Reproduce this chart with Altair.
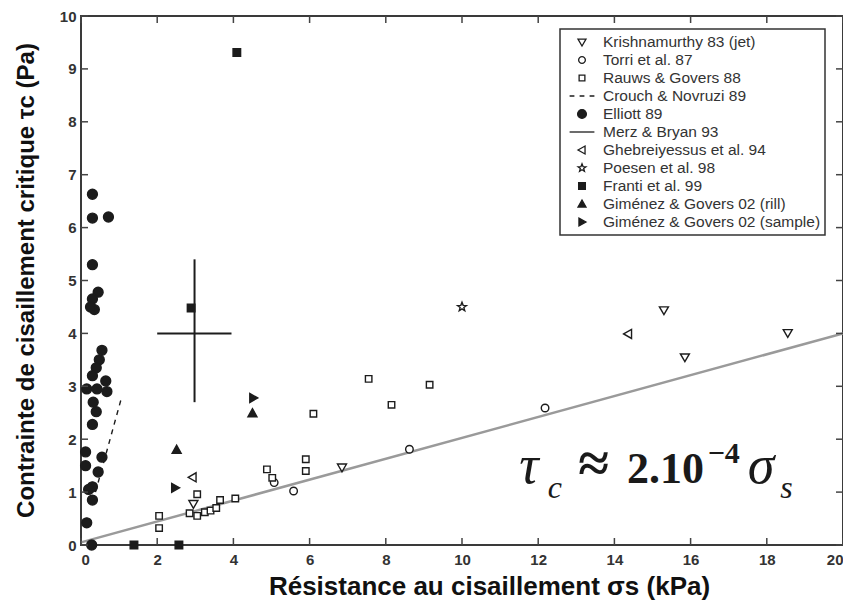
import altair as alt
import pandas as pd
import numpy as np

# ---------------- data ----------------
series_names = [
    "Krishnamurthy 83 (jet)", "Torri et al. 87", "Rauws & Govers 88",
    "Crouch & Novruzi 89", "Elliott 89", "Merz & Bryan 93",
    "Ghebreiyessus et al. 94", "Poesen et al. 98", "Franti et al. 99",
    "Giménez & Govers 02 (rill)", "Giménez & Govers 02 (sample)",
]

krish_x = [2.95, 6.85, 15.3, 15.85, 18.55]
krish_y = [0.78, 1.47, 4.44, 3.55, 4.01]

torri_x = [5.07, 5.58, 8.62, 12.18]
torri_y = [1.18, 1.02, 1.81, 2.59]

rauws_x = [2.05, 2.05, 2.85, 3.05, 3.05, 3.25, 3.4, 3.55, 3.65, 4.05,
           4.88, 5.02, 5.9, 5.9, 6.1, 7.55, 8.15, 9.15]
rauws_y = [0.55, 0.32, 0.6, 0.96, 0.55, 0.62, 0.65, 0.7, 0.85, 0.88,
           1.43, 1.27, 1.62, 1.4, 2.48, 3.14, 2.65, 3.03]

elliott_x = [0.3, 0.3, 0.72, 0.3, 0.45, 0.3, 0.35, 0.25, 0.55, 0.48, 0.4, 0.3,
             0.15, 0.42, 0.65, 0.68, 0.32, 0.4, 0.3, 0.12, 0.12, 0.55, 0.45,
             0.3, 0.2, 0.3, 0.15, 0.28]
elliott_y = [6.63, 6.18, 6.2, 5.3, 4.78, 4.65, 4.45, 4.5, 3.68, 3.5, 3.35, 3.2,
             2.95, 2.95, 3.1, 2.9, 2.7, 2.52, 2.28, 1.76, 1.5, 1.66, 1.38,
             1.1, 1.05, 0.85, 0.42, 0.0]

gheb_x = [2.93, 14.36]
gheb_y = [1.28, 3.99]

poesen_x = [10.0]
poesen_y = [4.5]

franti_x = [4.09, 2.89, 1.39, 2.57]
franti_y = [9.31, 4.48, 0.0, 0.0]

gim_rill_x = [2.51, 4.5]
gim_rill_y = [1.8, 2.49]

gim_sample_x = [2.47, 4.52]
gim_sample_y = [1.08, 2.78]

# Crouch & Novruzi 89 (dashed segment)
crouch_x = [0.38, 1.05]
crouch_y = [1.0, 2.75]

# Merz & Bryan 93 (cross: mean +/- range)
merz_cx = 2.98
merz_cy = 4.0
merz_x_range = [2.0, 3.95]
merz_y_range = [2.7, 5.4]

# fitted relation tau_c ~ 2e-4 sigma_s
fit_x = [0.0, 20.0]
fit_y = [0.05, 4.0]

x_ticks = list(range(0, 21, 2))
y_ticks = list(range(0, 11, 1))

# formula annotation pieces
formula_text = ["τ", "c", "≈", "2.10", "−4", "σ", "s"]
formula_x = [11.5, 12.25, 13.05, 14.33, 16.45, 17.5, 18.35]
formula_y = [1.17, 0.89, 1.2, 1.17, 1.55, 1.17, 0.89]

# ---------------- marker styles ----------------
def circ(r):
    return f"M{r},0A{r},{r} 0 1,1 -{r},0A{r},{r} 0 1,1 {r},0Z"

def sq(h):
    return f"M-{h},-{h}L{h},-{h}L{h},{h}L-{h},{h}Z"

ang = np.deg2rad(-90 + 36 * np.arange(10))
rad = np.where(np.arange(10) % 2 == 0, 0.52, 0.22)
star = "M" + "L".join(f"{r*np.cos(a):.3f},{r*np.sin(a):.3f}" for r, a in zip(rad, ang)) + "Z"

shape_range = [
    "M-0.5,-0.36L0.5,-0.36L0,0.5Z",          # triangle down
    circ(0.42),                                # circle
    sq(0.36),                                  # square
    "M-1.55,0L-0.95,0M-0.3,0L0.3,0M0.95,0L1.55,0",  # dashed line
    circ(0.55),                                # filled circle
    "M-1.55,0L1.55,0",                         # solid line
    "M-0.5,0L0.38,-0.5L0.38,0.5Z",             # triangle left
    star,                                      # star
    sq(0.42),                                  # filled square
    "M-0.5,0.38L0.5,0.38L0,-0.5Z",             # triangle up
    "M0.5,0L-0.38,-0.5L-0.38,0.5Z",            # triangle right
]
ink = "#1c1c1c"
fill_range = ["white", "white", "white", "white", ink, "white", "white",
              "white", ink, ink, ink]
stroke_range = [ink] * 11

pts = []
for name, xs, ys in [
    (series_names[0], krish_x, krish_y),
    (series_names[1], torri_x, torri_y),
    (series_names[2], rauws_x, rauws_y),
    (series_names[4], elliott_x, elliott_y),
    (series_names[6], gheb_x, gheb_y),
    (series_names[7], poesen_x, poesen_y),
    (series_names[8], franti_x, franti_y),
    (series_names[9], gim_rill_x, gim_rill_y),
    (series_names[10], gim_sample_x, gim_sample_y),
]:
    for a, b in zip(xs, ys):
        pts.append({"series": name, "x": a, "y": b})
pts_df = pd.DataFrame(pts)

xscale = alt.Scale(domain=[0, 20], nice=False, zero=False)
yscale = alt.Scale(domain=[0, 10], nice=False, zero=False)

title_font = "Liberation Sans"

points = alt.Chart(pts_df).mark_point(size=324, strokeWidth=1.4, opacity=1).encode(
    x=alt.X("x:Q", scale=xscale, axis=alt.Axis(
        values=x_ticks, title="Résistance au cisaillement σs (kPa)",
        titleX=408, titleY=41, titleBaseline="middle")),
    y=alt.Y("y:Q", scale=yscale, axis=alt.Axis(
        values=y_ticks, title="Contrainte de cisaillement critique τc (Pa)",
        titleX=-55, titleY=264, titleBaseline="middle")),
    shape=alt.Shape("series:N", scale=alt.Scale(domain=series_names, range=shape_range), title=None),
    fill=alt.Fill("series:N", scale=alt.Scale(domain=series_names, range=fill_range), title=None),
    stroke=alt.Stroke("series:N", scale=alt.Scale(domain=series_names, range=stroke_range), title=None),
)

fit = alt.Chart(pd.DataFrame({"x": fit_x, "y": fit_y})).mark_line(
    color="#9a9a9a", strokeWidth=2.5).encode(x="x:Q", y="y:Q")

crouch = alt.Chart(pd.DataFrame({"x": crouch_x, "y": crouch_y})).mark_line(
    color=ink, strokeWidth=1.4, strokeDash=[5, 5]).encode(x="x:Q", y="y:Q")

merz_df = pd.DataFrame({
    "x": [merz_x_range[0], merz_cx], "x2": [merz_x_range[1], merz_cx],
    "y": [merz_cy, merz_y_range[0]], "y2": [merz_cy, merz_y_range[1]],
})
merz = alt.Chart(merz_df).mark_rule(color=ink, strokeWidth=2).encode(
    x="x:Q", x2="x2:Q", y="y:Q", y2="y2:Q")

fdf = pd.DataFrame({"t": formula_text, "x": formula_x, "y": formula_y,
                    "fs": [54, 32, 56, 44, 30, 54, 32]})
f_italic = alt.Chart(fdf[fdf.t.isin(["τ", "c", "σ", "s"])]).mark_text(
    font="Liberation Serif", fontStyle="italic", align="left", baseline="alphabetic",
    color="#1a1a1a").encode(x="x:Q", y="y:Q", text="t:N", size=alt.Size("fs:Q", scale=None, legend=None))
f_reg = alt.Chart(fdf[fdf.t.isin(["≈", "2.10", "−4"])]).mark_text(
    font="Liberation Serif", fontWeight="bold", align="left", baseline="alphabetic",
    color="#1a1a1a").encode(x="x:Q", y="y:Q", text="t:N", size=alt.Size("fs:Q", scale=None, legend=None))

W, H, T = 762, 529, 7
tick_col = "#444"
xt = pd.DataFrame({"v": x_ticks})
yt = pd.DataFrame({"v": y_ticks})
tb = alt.Chart(xt).mark_rule(color=tick_col, strokeWidth=1.5).encode(
    x="v:Q", y=alt.value(H), y2=alt.value(H - T))
tt = alt.Chart(xt).mark_rule(color=tick_col, strokeWidth=1.5).encode(
    x="v:Q", y=alt.value(0), y2=alt.value(T))
tl = alt.Chart(yt).mark_rule(color=tick_col, strokeWidth=1.5).encode(
    y="v:Q", x=alt.value(0), x2=alt.value(T))
tr = alt.Chart(yt).mark_rule(color=tick_col, strokeWidth=1.5).encode(
    y="v:Q", x=alt.value(W), x2=alt.value(W - T))

chart = alt.layer(fit, crouch, merz, points, f_italic, f_reg, tb, tt, tl, tr).properties(
    width=W, height=H,
    autosize=alt.AutoSizeParams(type="none"),
    padding={"left": 73, "top": 8, "right": 0, "bottom": 62},
).configure_view(
    stroke="#3a3a3a", strokeWidth=2,
).configure_axis(
    domain=False, ticks=False, tickSize=0, grid=False,
    labelFont="Liberation Sans", labelFontWeight="bold", labelFontSize=15,
    labelColor="#333", labelPadding=5,
    titleFont=title_font, titleFontWeight="bold", titleColor="#111",
).configure_axisX(
    labelPadding=7, titleFontSize=26,
).configure_axisY(
    titleFontSize=24,
).configure_legend(
    orient="none", legendX=479, legendY=13, padding=4, symbolOffset=9,
    labelOffset=12, rowPadding=0, symbolSize=256, symbolStrokeWidth=1.3,
    strokeColor="#333", strokeWidth=1.5, fillColor="white",
    labelFont="Liberation Sans", labelFontSize=15.5, labelColor="#333", labelLimit=400,
)

chart.save("out.html", embed_options={"renderer": "svg", "actions": False})
